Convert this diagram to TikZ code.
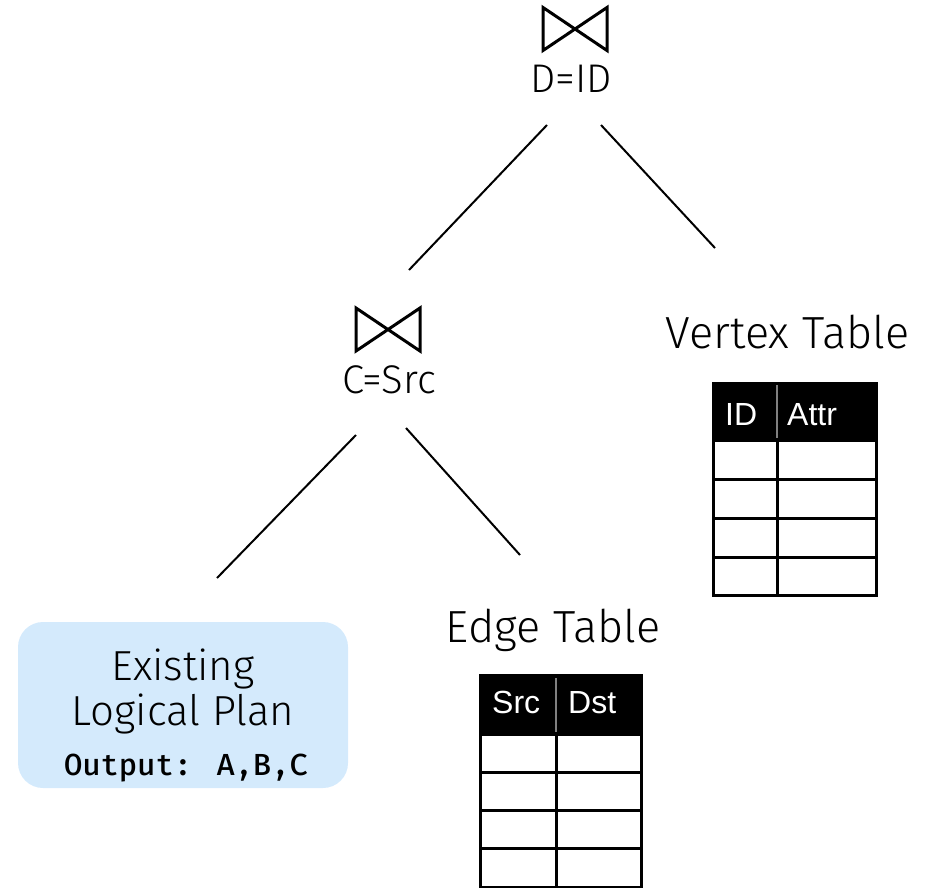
\documentclass[tikz,border=0pt]{standalone}
\usepackage{fontspec}
\IfFontExistsTF{Fira Sans Light}
  {\setmainfont{Fira Sans Light}}
  {\IfFontExistsTF{Lato Light}
    {\setmainfont{Lato Light}}
    {\IfFontExistsTF{Open Sans Light}
      {\setmainfont{Open Sans Light}}
      {\setmainfont{Fira Sans}}}}
\IfFontExistsTF{Fira Mono Medium}
  {\newfontfamily\codefont{Fira Mono Medium}}
  {\newfontfamily\codefont{DejaVu Sans Mono Bold}}
\newfontfamily\tabfont{Liberation Sans}
\definecolor{planblue}{RGB}{212,234,252}
\begin{document}
\begin{tikzpicture}[x=1pt,y=-1pt,
  edge/.style={line width=2pt, black},
  tabline/.style={line width=3pt, black},
  headtxt/.style={text=white, inner sep=0pt, anchor=base west, font=\tabfont\fontsize{32}{36}\selectfont},
  title/.style={inner sep=0pt, anchor=base, font=\fontsize{45}{54}\selectfont},
  cond/.style={inner sep=0pt, anchor=base, font=\fontsize{40}{48}\selectfont},
  plantxt/.style={inner sep=0pt, anchor=base, font=\fontsize{42}{50}\selectfont},
  planbox/.style={fill=planblue, rounded corners=25pt, minimum width=330pt, minimum height=166pt, inner sep=0pt},
  bowtie/.pic={\draw[line width=3pt, line join=miter] (-32,-21.5) -- (32,21.5) -- (32,-21.5) -- (-32,21.5) -- cycle;}
]
\useasboundingbox (0,0) rectangle (928,887);

% join operators
\pic (jtop) at (575,29) {bowtie};
\node[cond] (jtoplbl) at (571,92) {D=ID};
\pic (jmid) at (388,329.5) {bowtie};
\node[cond] (jmidlbl) at (389,393) {C=Src};

% tree edges
\coordinate (a1) at (547,125); \coordinate (a2) at (409,270);
\coordinate (b1) at (601,125); \coordinate (b2) at (715,248);
\coordinate (c1) at (356,435); \coordinate (c2) at (217,578);
\coordinate (d1) at (406,428); \coordinate (d2) at (520,555);
\draw[edge] (a1) -- (a2);
\draw[edge] (b1) -- (b2);
\draw[edge] (c1) -- (c2);
\draw[edge] (d1) -- (d2);

% existing plan
\node[planbox] (plan) at (183,705) {};
\node[plantxt] (plan1) at (183,680) {Existing};
\node[plantxt] (plan2) at (183,725) {Logical Plan};
\node[inner sep=0pt, anchor=base, font=\codefont\fontsize{30.5}{36}\selectfont] (plan3) at (186,775) {Output: A,B,C};

% vertex table
\node[title] (vtitle) at (787.5,348) {Vertex Table};
\fill[black] (713,383) rectangle (876,440);
\draw[tabline] (713,383) rectangle (876,595);
\draw[tabline] (713,440) -- (876,440);
\draw[tabline] (713,479) -- (876,479);
\draw[tabline] (713,518) -- (876,518);
\draw[tabline] (713,557) -- (876,557);
\draw[tabline] (777,440) -- (777,595);
\draw[line width=2pt, gray] (777,385) -- (777,438);
\node[headtxt] (vid) at (725,425) {ID};
\node[headtxt] (vattr) at (787,425) {Attr};

% edge table
\node[title] (etitle) at (553,642) {Edge Table};
\fill[black] (480,675) rectangle (641,734);
\draw[tabline] (480,675) rectangle (641,887);
\draw[tabline] (480,734) -- (641,734);
\draw[tabline] (480,772) -- (641,772);
\draw[tabline] (480,810) -- (641,810);
\draw[tabline] (480,848) -- (641,848);
\draw[tabline] (556,734) -- (556,887);
\draw[line width=2pt, gray] (556,678) -- (556,732);
\node[headtxt] (esrc) at (492,713) {Src};
\node[headtxt] (edst) at (568,713) {Dst};
\end{tikzpicture}
\end{document}
